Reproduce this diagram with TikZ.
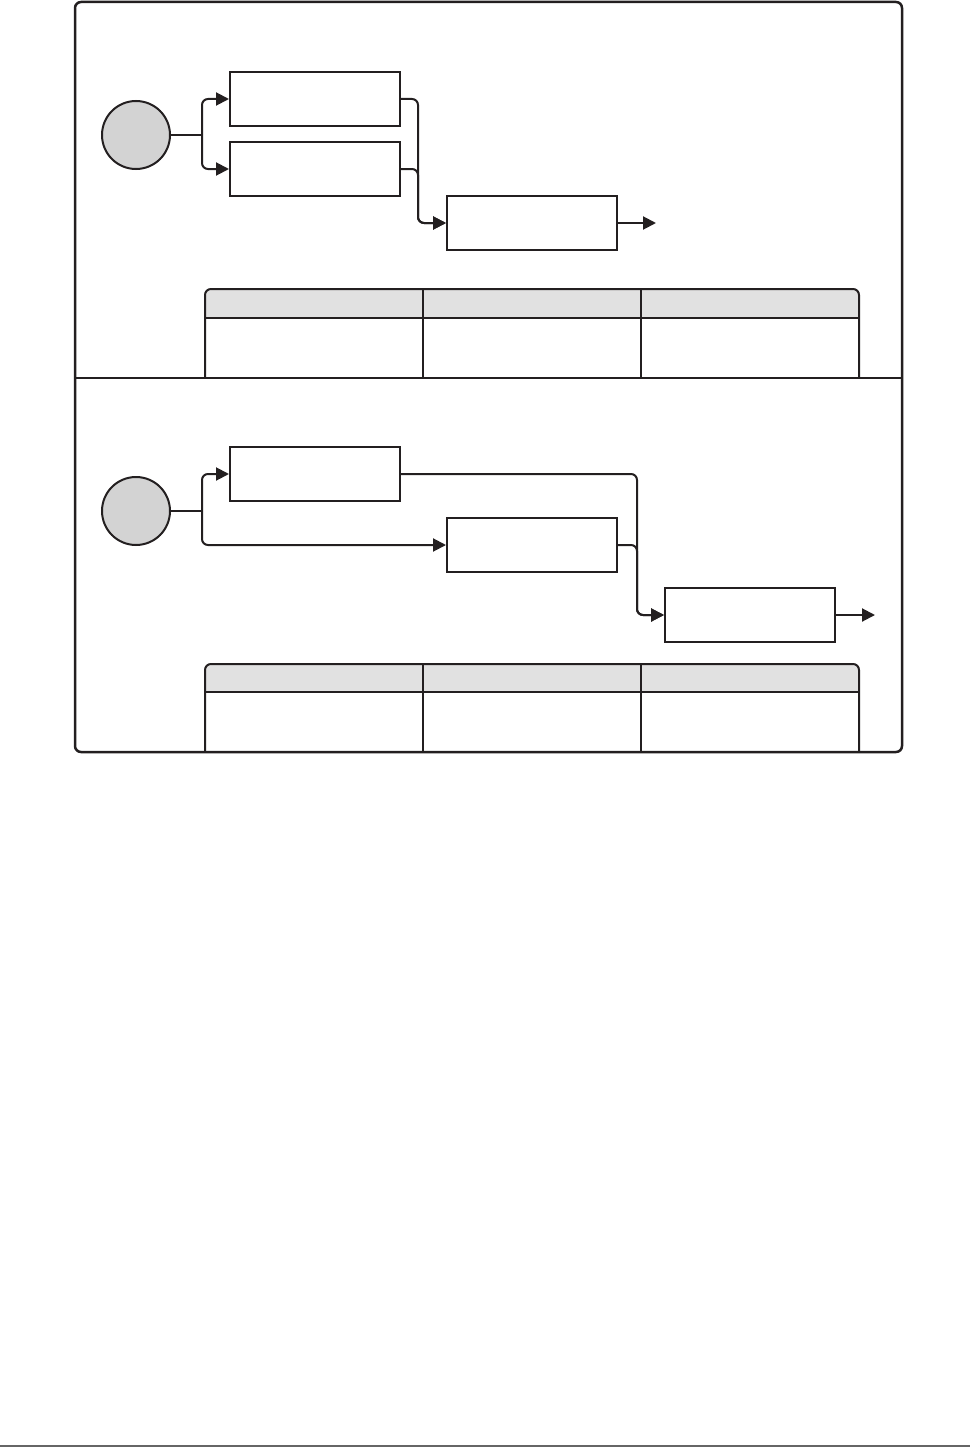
\documentclass[tikz,border=0pt]{standalone}
\usetikzlibrary{arrows.meta}
\definecolor{ink}{HTML}{231F20}
\definecolor{circfill}{HTML}{D3D3D3}
\definecolor{hdrfill}{HTML}{E1E1E1}
\tikzset{
  frame/.style={draw=ink,line width=2.5pt,rounded corners=6pt},
  startev/.style={circle,draw=ink,fill=circfill,line width=2pt,minimum size=68pt,inner sep=0pt},
  taskbox/.style={rectangle,draw=ink,fill=white,line width=2pt,minimum width=170pt,minimum height=54pt,inner sep=0pt},
  conn/.style={draw=ink,line width=2pt},
  arr/.style={conn,-{Triangle[length=13pt,width=13pt]}},
  tblout/.style={draw=ink,line width=2pt,rounded corners=6pt},
  tblin/.style={draw=ink,line width=1.2pt},
  hdr/.style={fill=hdrfill,rounded corners=6pt}
}
\begin{document}
\begin{tikzpicture}[x=1pt,y=-1pt]
\useasboundingbox (0,0) rectangle (970,1453);
% outer frame
\draw[frame] (75,2) rectangle (902,752);
% ---------- section 1 ----------
\node[startev] (c1) at (136,135) {};
\node[taskbox] (a1) at (315,99) {};
\node[taskbox] (a2) at (315,169) {};
\node[taskbox] (a3) at (532,223) {};
\coordinate (j1) at (202,135);
\coordinate (m1) at (418,223);
\coordinate (o1) at (656,223);
\draw[conn] (c1.east) -- (j1);
\draw[arr,rounded corners=6pt] (j1) |- (a1.west);
\draw[arr,rounded corners=6pt] (j1) |- (a2.west);
\draw[arr,rounded corners=6pt] (a1.east) -| (m1) -- (a3.west);
\draw[arr,rounded corners=6pt] (a2.east) -| (m1) -- (a3.west);
\draw[arr] (a3.east) -- (o1);
% table 1
\fill[hdr] (205,318) -- (205,289) -- (859,289) -- (859,318);
\draw[tblin] (205,318) -- (859,318);
\draw[tblin] (423,289) -- (423,378);
\draw[tblin] (641,289) -- (641,378);
\draw[tblout] (205,378) -- (205,289) -- (859,289) -- (859,378);
% divider
\draw[draw=ink,line width=2.5pt] (75,378) -- (902,378);
% ---------- section 2 ----------
\node[startev] (c2) at (136,511) {};
\node[taskbox] (b1) at (315,474) {};
\node[taskbox] (b2) at (532,545) {};
\node[taskbox] (b3) at (750,615) {};
\coordinate (j2) at (202,511);
\coordinate (m2) at (637,615);
\coordinate (o2) at (875,615);
\draw[conn] (c2.east) -- (j2);
\draw[arr,rounded corners=6pt] (j2) |- (b1.west);
\draw[arr,rounded corners=6pt] (j2) |- (b2.west);
\draw[arr,rounded corners=6pt] (b1.east) -| (m2) -- (b3.west);
\draw[arr,rounded corners=6pt] (b2.east) -| (m2) -- (b3.west);
\draw[arr] (b3.east) -- (o2);
% table 2
\fill[hdr] (205,692) -- (205,664) -- (859,664) -- (859,692);
\draw[tblin] (205,692) -- (859,692);
\draw[tblin] (423,664) -- (423,752);
\draw[tblin] (641,664) -- (641,752);
\draw[tblout] (205,752) -- (205,664) -- (859,664) -- (859,752);
% redraw frame bottom edge over table ends
\draw[draw=ink,line width=2.5pt] (190,752) -- (880,752);
% page rule
\draw[draw=gray!80!black,line width=1.5pt] (0,1446) -- (970,1446);
\end{tikzpicture}
\end{document}
